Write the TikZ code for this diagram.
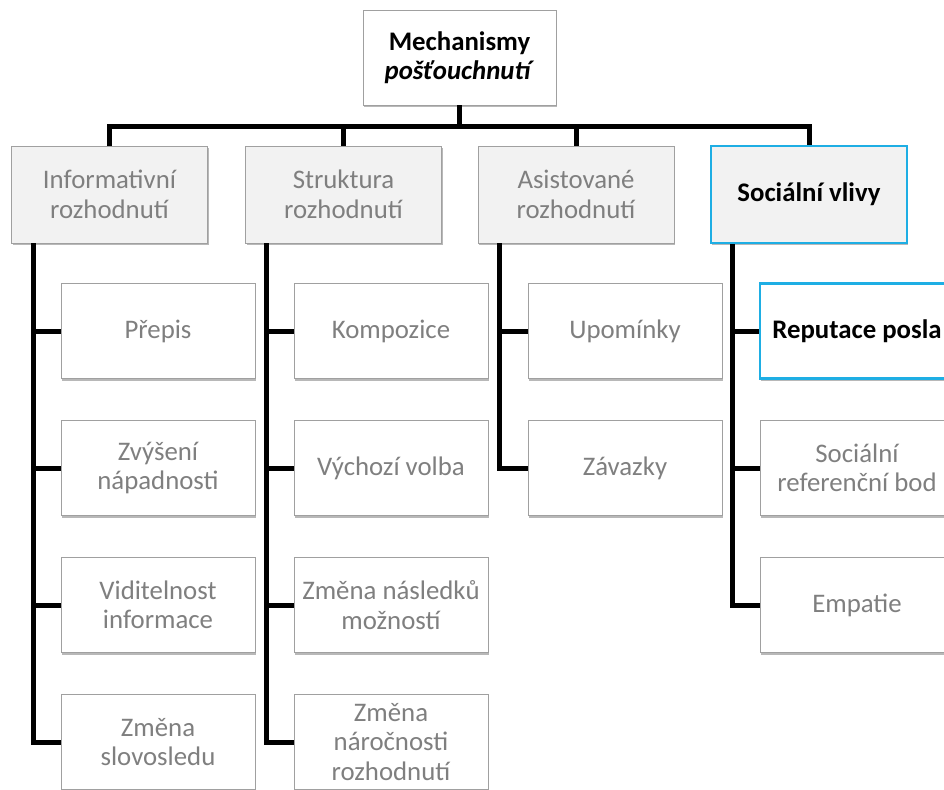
\documentclass[tikz,border=0pt]{standalone}
\usepackage{fontspec}
\setmainfont{Carlito}
\usetikzlibrary{shadows}
\definecolor{txtgray}{RGB}{127,127,127}
\definecolor{bordergray}{RGB}{160,160,160}
\definecolor{fillgray}{RGB}{242,242,242}
\definecolor{hicyan}{RGB}{30,174,228}
\tikzset{
  box/.style={rectangle, draw=bordergray, line width=0.9pt, minimum width=194pt, minimum height=95pt,
    inner sep=0pt, align=center, font=\fontsize{26.8}{29.5}\selectfont, text=txtgray,
    drop shadow={shadow xshift=1.2pt, shadow yshift=-2.2pt, opacity=0.28, fill=black}},
  lvlone/.style={box, fill=fillgray, minimum width=196pt, minimum height=97pt},
  child/.style={box, fill=white},
  hilite/.style={draw=hicyan, line width=2.6pt, text=black, font=\fontsize{26.8}{29.5}\selectfont\bfseries},
  conn/.style={draw=black, line width=5pt, line join=miter},
}
\begin{document}
\begin{tikzpicture}[x=1pt, y=-1pt]
\clip (0,0) rectangle (944,789);
\fill[white] (0,0) rectangle (944,789);

% top
\node[box, fill=white, text=black, minimum width=193pt, minimum height=95pt] (top) at (459.5,57.5)
  {\textbf{Mechanismy}\\\textbf{\textit{pošťouchnutí}}};

% level one
\node[lvlone] (la) at (109.5,194.5) {Informativní\\rozhodnutí};
\node[lvlone] (lb) at (343.5,194.5) {Struktura\\rozhodnutí};
\node[lvlone] (lc) at (576,194.5) {Asistované\\rozhodnutí};
\node[lvlone, hilite] (ld) at (809,194.5) {Sociální vlivy};

% children column a
\node[child] (a1) at (158,331) {Přepis};
\node[child] (a2) at (158,468) {Zvýšení\\nápadnosti};
\node[child] (a3) at (158,605) {Viditelnost\\informace};
\node[child] (a4) at (158,742) {Změna\\slovosledu};
% column b
\node[child] (b1) at (391,331) {Kompozice};
\node[child] (b2) at (391,468) {Výchozí volba};
\node[child] (b3) at (391,605) {Změna následků\\možností};
\node[child] (b4) at (391,742) {Změna\\náročnosti\\rozhodnutí};
% column c
\node[child] (c1) at (625,331) {Upomínky};
\node[child] (c2) at (625,468) {Závazky};
% column d
\node[child, hilite] (d1) at (857,331) {Reputace posla};
\node[child] (d2) at (857,468) {Sociální\\referenční bod};
\node[child] (d3) at (857,605) {Empatie};

% connectors
\coordinate (bar) at (0,126);
\draw[conn] (top.south) -- (top.south |- bar);
\draw[conn] (la.north) |- (ld.north |- bar) -- (ld.north);
\draw[conn] (lb.north) -- (lb.north |- bar);
\draw[conn] (lc.north) -- (lc.north |- bar);

\coordinate (xa) at (33,0);
\coordinate (xb) at (266,0);
\coordinate (xc) at (499,0);
\coordinate (xd) at (732,0);

\draw[conn] (la.south -| xa) |- (a4.west);
\draw[conn] (a1.west -| xa) -- (a1.west);
\draw[conn] (a2.west -| xa) -- (a2.west);
\draw[conn] (a3.west -| xa) -- (a3.west);

\draw[conn] (lb.south -| xb) |- (b4.west);
\draw[conn] (b1.west -| xb) -- (b1.west);
\draw[conn] (b2.west -| xb) -- (b2.west);
\draw[conn] (b3.west -| xb) -- (b3.west);

\draw[conn] (lc.south -| xc) |- (c2.west);
\draw[conn] (c1.west -| xc) -- (c1.west);

\draw[conn] (ld.south -| xd) |- (d3.west);
\draw[conn] (d1.west -| xd) -- (d1.west);
\draw[conn] (d2.west -| xd) -- (d2.west);
\end{tikzpicture}
\end{document}
